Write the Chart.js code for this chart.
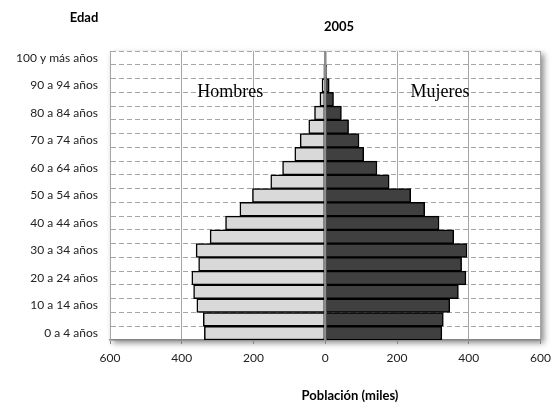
<!DOCTYPE html>
<html lang="es">
<head>
    <meta charset="UTF-8">
    <title>Pirámide 2005</title>
    <style>
        body {
            margin: 0;
            padding: 0;
            background-color: #fff;
        }
        .wrap {
            width: 558px;
            height: 407px;
            position: relative;
        }
    </style>
</head>
<body>
    <div class="wrap">
        <canvas id="piramide"></canvas>
    </div>
    <script src="https://cdn.jsdelivr.net/npm/chart.js"></script>
    <script>
        // grupos de edad, de abajo hacia arriba
        const edades = [
            '0 a 4 años', '5 a 9 años', '10 a 14 años', '15 a 19 años', '20 a 24 años',
            '25 a 29 años', '30 a 34 años', '35 a 39 años', '40 a 44 años', '45 a 49 años',
            '50 a 54 años', '55 a 59 años', '60 a 64 años', '65 a 69 años', '70 a 74 años',
            '75 a 79 años', '80 a 84 años', '85 a 89 años', '90 a 94 años', '95 a 99 años',
            '100 y más años'
        ];
        // población en miles
        const hombres = [337, 340, 358, 367, 372, 353, 360, 321, 278, 238, 203, 152, 119, 85, 70, 46, 30, 15, 9, 4, 1];
        const mujeres = [325, 329, 347, 371, 392, 380, 395, 358, 317, 277, 238, 178, 144, 107, 94, 65, 45, 23, 11, 4, 1];
        const xTicks = [-600, -400, -200, 0, 200, 400, 600];

        const fuente = 'Lato, "Liberation Sans", sans-serif';

        const decor = {
            id: 'decor',
            beforeDraw(chart) {
                const { ctx, chartArea: a } = chart;
                ctx.save();
                ctx.shadowColor = 'rgba(0, 0, 0, 0.45)';
                ctx.shadowBlur = 6;
                ctx.shadowOffsetX = 3;
                ctx.shadowOffsetY = 3;
                ctx.fillStyle = '#fff';
                ctx.fillRect(a.left, a.top, a.width, a.height);
                ctx.restore();
            },
            afterDatasetsDraw(chart) {
                const { ctx, chartArea: a } = chart;
                const x0 = chart.scales.x.getPixelForValue(0);
                ctx.save();
                ctx.strokeStyle = '#8c8c8c';
                ctx.lineWidth = 2.5;
                ctx.beginPath();
                ctx.moveTo(x0, a.top);
                ctx.lineTo(x0, a.bottom);
                ctx.stroke();
                ctx.restore();
            },
            afterDraw(chart) {
                const { ctx } = chart;
                const sx = chart.scales.x;
                const sy = chart.scales.y;
                const yTexto = (sy.getPixelForValue(17) + sy.getPixelForValue(18)) / 2;
                ctx.save();
                ctx.fillStyle = '#000';
                ctx.textAlign = 'center';
                ctx.textBaseline = 'middle';
                ctx.font = 'bold 13px ' + fuente;
                ctx.fillText('Edad', 84, 18);
                ctx.fillText('2005', 339, 27);
                ctx.fillText('Población (miles)', 350, 396);
                ctx.font = '18px "Liberation Serif", "DejaVu Serif", serif';
                ctx.fillText('Hombres', sx.getPixelForValue(-265), yTexto);
                ctx.fillText('Mujeres', sx.getPixelForValue(320), yTexto);
                ctx.restore();
            }
        };

        function crearGrafico() {
            const ctx = document.getElementById('piramide').getContext('2d');
            new Chart(ctx, {
                type: 'bar',
                data: {
                    labels: edades,
                    datasets: [{
                        label: 'Hombres',
                        data: hombres.map(v => -v),
                        backgroundColor: '#d9d9d9',
                        borderColor: '#000',
                        borderWidth: 1.5,
                        borderSkipped: false,
                        barPercentage: 1,
                        categoryPercentage: 1
                    }, {
                        label: 'Mujeres',
                        data: mujeres,
                        backgroundColor: '#404040',
                        borderColor: '#000',
                        borderWidth: 1.5,
                        borderSkipped: false,
                        barPercentage: 1,
                        categoryPercentage: 1
                    }]
                },
                options: {
                    indexAxis: 'y',
                    responsive: true,
                    maintainAspectRatio: false,
                    animation: false,
                    layout: {
                        padding: { top: 51, right: 15, left: 0, bottom: 0 }
                    },
                    scales: {
                        x: {
                            stacked: true,
                            min: -600,
                            max: 600,
                            afterBuildTicks: scale => {
                                scale.ticks = xTicks.map(v => ({ value: v }));
                            },
                            afterFit: scale => {
                                scale.height = 67;
                            },
                            ticks: {
                                color: '#222',
                                font: { family: fuente, size: 12 },
                                padding: 7,
                                callback: v => Math.abs(v)
                            },
                            grid: {
                                color: '#a6a6a6',
                                lineWidth: 1,
                                borderDash: [5, 3],
                                tickLength: 4,
                                tickColor: '#868686',
                                tickBorderDash: []
                            },
                            border: {
                                color: '#868686',
                                width: 1.5
                            }
                        },
                        y: {
                            stacked: true,
                            reverse: true,
                            afterFit: scale => {
                                scale.width = 110;
                            },
                            ticks: {
                                autoSkip: false,
                                color: '#222',
                                font: { family: fuente, size: 12 },
                                padding: 12,
                                callback: function (v, i) {
                                    return i % 2 === 0 ? this.getLabelForValue(v) : '';
                                }
                            },
                            grid: {
                                offset: true,
                                color: '#a6a6a6',
                                lineWidth: 1,
                                borderDash: [5, 3],
                                drawTicks: false
                            },
                            border: {
                                color: '#a6a6a6',
                                dash: [5, 3]
                            }
                        }
                    },
                    plugins: {
                        legend: { display: false },
                        tooltip: { enabled: false },
                        title: { display: false }
                    }
                },
                plugins: [decor]
            });
        }

        document.addEventListener('DOMContentLoaded', crearGrafico);
    </script>
</body>
</html>
